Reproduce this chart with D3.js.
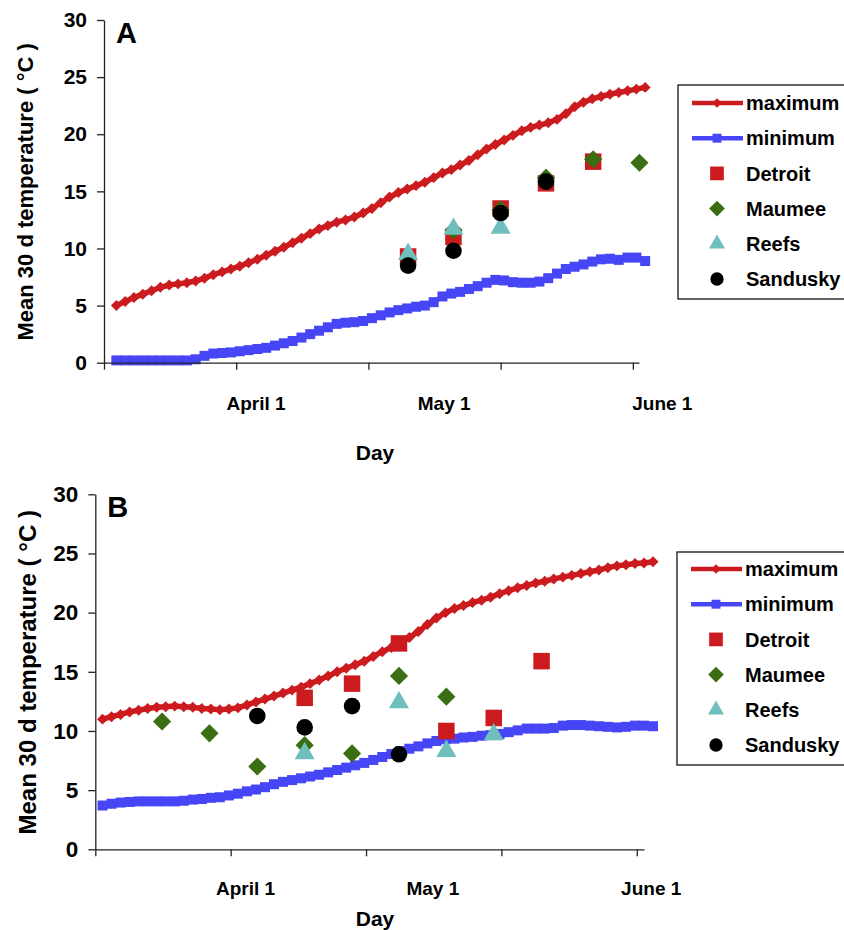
<!DOCTYPE html>
<html>
<head>
<meta charset="utf-8">
<script src="https://cdn.jsdelivr.net/npm/d3@7"></script>
<style>
  body { margin: 0; background: #fff; }
  text { font-family: "Liberation Sans", Arial, sans-serif; font-weight: bold; fill: #000; }
</style>
</head>
<body>
<svg id="chart" width="844" height="930"></svg>
<script>
// ---- data ----
var yTicks = [0, 5, 10, 15, 20, 25, 30];
var monthLabels = ["April 1", "May 1", "June 1"];
var seriesNames = ["maximum", "minimum", "Detroit", "Maumee", "Reefs", "Sandusky"];

// 30 d running mean, one value every 2 days
var maxA = [5.0, 5.35, 5.7, 6.0, 6.3, 6.6, 6.8, 6.9, 7.0, 7.15,
  7.4, 7.7, 7.95, 8.2, 8.45, 8.75, 9.05, 9.4, 9.75, 10.1,
  10.5, 10.9, 11.3, 11.7, 12.0, 12.3, 12.5, 12.75, 13.1, 13.5,
  14.0, 14.5, 14.9, 15.2, 15.5, 15.8, 16.2, 16.6, 16.9, 17.3,
  17.7, 18.2, 18.7, 19.1, 19.5, 19.9, 20.3, 20.6, 20.8, 21.0,
  21.3, 21.8, 22.4, 22.8, 23.1, 23.3, 23.5, 23.65, 23.8, 23.95,
  24.1];
var minA = [0.2, 0.2, 0.2, 0.2, 0.2, 0.2, 0.2, 0.2, 0.2, 0.3,
  0.6, 0.8, 0.85, 0.9, 1.0, 1.1, 1.2, 1.3, 1.5, 1.7,
  1.9, 2.2, 2.5, 2.8, 3.1, 3.4, 3.5, 3.55, 3.65, 3.9,
  4.15, 4.4, 4.6, 4.75, 4.9, 5.0, 5.3, 5.8, 6.05, 6.2,
  6.45, 6.7, 7.0, 7.25, 7.2, 7.05, 7.0, 7.0, 7.1, 7.4,
  7.8, 8.2, 8.4, 8.6, 8.85, 9.05, 9.1, 9.0, 9.2, 9.2,
  8.9];
var maxB = [11.0, 11.2, 11.4, 11.6, 11.75, 11.9, 12.0, 12.05, 12.1, 12.05,
  12.0, 11.9, 11.85, 11.8, 11.85, 11.95, 12.2, 12.45, 12.7, 12.95,
  13.2, 13.45, 13.7, 14.0, 14.3, 14.65, 15.0, 15.3, 15.6, 15.9,
  16.3, 16.7, 17.05, 17.4, 17.9, 18.4, 19.0, 19.55, 20.0, 20.35,
  20.6, 20.85, 21.05, 21.3, 21.6, 21.85, 22.1, 22.3, 22.5, 22.65,
  22.85, 23.0, 23.15, 23.3, 23.45, 23.6, 23.8, 23.95, 24.05, 24.15,
  24.2, 24.3];
var minB = [3.7, 3.85, 3.95, 4.0, 4.05, 4.05, 4.05, 4.05, 4.05, 4.1,
  4.2, 4.25, 4.35, 4.4, 4.55, 4.7, 4.9, 5.05, 5.25, 5.5,
  5.7, 5.85, 6.0, 6.15, 6.3, 6.5, 6.7, 6.9, 7.1, 7.3,
  7.55, 7.8, 8.05, 8.3, 8.5, 8.7, 8.95, 9.15, 9.3, 9.35,
  9.45, 9.5, 9.6, 9.65, 9.75, 9.9, 10.05, 10.2, 10.2, 10.2,
  10.25, 10.45, 10.5, 10.5, 10.45, 10.4, 10.35, 10.3, 10.35, 10.45,
  10.45, 10.4];

// sampling days (days from axis start) and site means
var sampleDaysA = [69, 79.3, 90, 100.3, 111, 121.5];
var detroitA  = [9.3, 11.0, 13.5, 15.7, 17.6, null];
var maumeeA   = [null, 11.6, 13.4, 16.2, 17.8, 17.5];
var reefsA    = [9.5, 11.7, 11.8, null, null, null];
var sanduskyA = [8.5, 9.8, 13.1, 15.85, null, null];

var sampleDaysB = [14.8, 25.3, 35.9, 46.4, 56.9, 67.3, 77.8, 88.3, 98.9];
var detroitB  = [null, null, null, 12.8, 14.0, 17.4, 10.0, 11.1, 15.9];
var maumeeB   = [10.8, 9.8, 7.0, 8.8, 8.1, 14.65, 12.9, null, null];
var reefsB    = [null, null, null, 8.1, null, 12.4, 8.3, 9.7, null];
var sanduskyB = [null, null, 11.27, 10.3, 12.1, 8.03, null, null, null];

// ---- styling ----
var red = "#cc1b1e", blue = "#4646f6", green = "#3b6e12", teal = "#70bfbf", black = "#000";
var svg = d3.select("#chart");

var panels = [
  { letter: "A", left: 104, right: 639, top: 20, bottom: 362.7, dayEnd: 121.4,
    lineStart: 2.8, maxv: maxA, minv: minA, days: sampleDaysA,
    sites: [detroitA, maumeeA, reefsA, sanduskyA],
    labelDays: [34.5, 77.2, 126.7], tickFont: 21, titleFont: 22,
    titleX: 33, labelY: 410, dayY: 460, legX: 678, legY: 85, legH: 214, legRow0: 103 },
  { letter: "B", left: 95.3, right: 644, top: 494.3, bottom: 849.3, dayEnd: 121.6,
    lineStart: 1.6, maxv: maxB, minv: minB, days: sampleDaysB,
    sites: [detroitB, maumeeB, reefsB, sanduskyB],
    labelDays: [33.3, 74.8, 123.2], tickFont: 22.5, titleFont: 24,
    titleX: 35.5, labelY: 895, dayY: 926, legX: 677, legY: 552, legH: 213, legRow0: 569 }
];

var sym = {
  square:  function (s) { return d3.symbol().type(d3.symbolSquare).size(s)(); },
  circle:  function (s) { return d3.symbol().type(d3.symbolCircle).size(s)(); },
  triangle:function (s) { return d3.symbol().type(d3.symbolTriangle).size(s)(); },
  diamond: function (s) { return d3.symbol().type(d3.symbolSquare).size(s)(); }
};
var siteStyle = [
  { shape: "square", color: red, size: 272, legSize: 188 },
  { shape: "diamond", color: green, size: 165, legSize: 123 },
  { shape: "triangle", color: teal, size: 175, legSize: 112 },
  { shape: "circle", color: black, size: 216, legSize: 139 }
];

function marker(g, shape, color, size, cx, cy) {
  var rot = shape === "diamond" ? " rotate(45)" : "";
  g.append("path")
    .attr("d", sym[shape](size))
    .attr("transform", "translate(" + cx + "," + cy + ")" + rot)
    .attr("fill", color);
}

function drawPanel(p) {
  var x = d3.scaleLinear().domain([0, p.dayEnd]).range([p.left, p.right]);
  var y = d3.scaleLinear().domain([0, 30]).range([p.bottom, p.top]);
  var g = svg.append("g");

  // lines with dense markers
  var lineDay = function (i) { return p.lineStart + 2 * i; };
  var line = d3.line().x(function (d, i) { return x(lineDay(i)); }).y(function (d) { return y(d); });

  g.append("path").datum(p.minv).attr("d", line)
    .attr("fill", "none").attr("stroke", blue).attr("stroke-width", 5);
  g.selectAll(".minpt").data(p.minv).enter().append("path")
    .attr("d", sym.square(100))
    .attr("transform", function (d, i) { return "translate(" + x(lineDay(i)) + "," + y(d) + ")"; })
    .attr("fill", blue);

  g.append("path").datum(p.maxv).attr("d", line)
    .attr("fill", "none").attr("stroke", red).attr("stroke-width", 5.5);
  g.selectAll(".maxpt").data(p.maxv).enter().append("path")
    .attr("d", sym.diamond(60))
    .attr("transform", function (d, i) { return "translate(" + x(lineDay(i)) + "," + y(d) + ") rotate(45)"; })
    .attr("fill", red);

  // site means
  p.sites.forEach(function (vals, k) {
    var st = siteStyle[k];
    vals.forEach(function (v, i) {
      if (v == null) return;
      marker(g, st.shape, st.color, st.size, x(p.days[i]), y(v));
    });
  });

  // axes
  var ya = g.append("g").attr("transform", "translate(" + p.left + ",0)")
    .call(d3.axisLeft(y).tickValues(yTicks).tickSize(7).tickSizeOuter(0).tickPadding(10));
  ya.attr("font-family", null).attr("font-size", null);
  ya.selectAll("text").style("font-size", p.tickFont + "px");

  var xa = g.append("g").attr("transform", "translate(0," + p.bottom + ")")
    .call(d3.axisBottom(x).tickValues([0, 30, 60, 90, 120]).tickSize(7).tickSizeOuter(0).tickFormat(""));
  [ya, xa].forEach(function (a) {
    a.selectAll("path, line").attr("stroke", "#222").attr("stroke-width", 1.3);
  });

  g.selectAll(".mlab").data(monthLabels).enter().append("text")
    .attr("x", function (d, i) { return x(p.labelDays[i]); })
    .attr("y", p.labelY)
    .attr("text-anchor", "middle")
    .style("font-size", "19px")
    .text(function (d) { return d; });

  g.append("text").attr("x", 375).attr("y", p.dayY).attr("text-anchor", "middle")
    .style("font-size", "21px").text("Day");

  g.append("text")
    .attr("transform", "translate(" + p.titleX + "," + ((p.top + p.bottom) / 2 + 0.5) + ") rotate(-90)")
    .attr("text-anchor", "middle")
    .style("font-size", p.titleFont + "px")
    .text("Mean 30 d temperature ( \u00B0C )");

  g.append("text").attr("x", p.left + 12).attr("y", p.top + 23)
    .style("font-size", "29px").text(p.letter);

  // legend
  var lg = g.append("g");
  lg.append("rect").attr("x", p.legX).attr("y", p.legY).attr("width", 200).attr("height", p.legH)
    .attr("fill", "#fff").attr("stroke", "#111").attr("stroke-width", 1.3);
  seriesNames.forEach(function (name, i) {
    var cy = p.legRow0 + i * 35.2;
    if (i < 2) {
      var c = i === 0 ? red : blue;
      lg.append("line").attr("x1", p.legX + 14).attr("x2", p.legX + 65)
        .attr("y1", cy).attr("y2", cy).attr("stroke", c).attr("stroke-width", 4.5);
      marker(lg, i === 0 ? "diamond" : "square", c, i === 0 ? 45 : 80, p.legX + 39, cy);
    } else {
      var st = siteStyle[i - 2];
      marker(lg, st.shape, st.color, st.legSize, p.legX + 39, cy);
    }
    lg.append("text").attr("x", p.legX + 68).attr("y", cy).attr("dy", "0.36em")
      .style("font-size", "20px").text(name);
  });
}

panels.forEach(drawPanel);
</script>
</body>
</html>
